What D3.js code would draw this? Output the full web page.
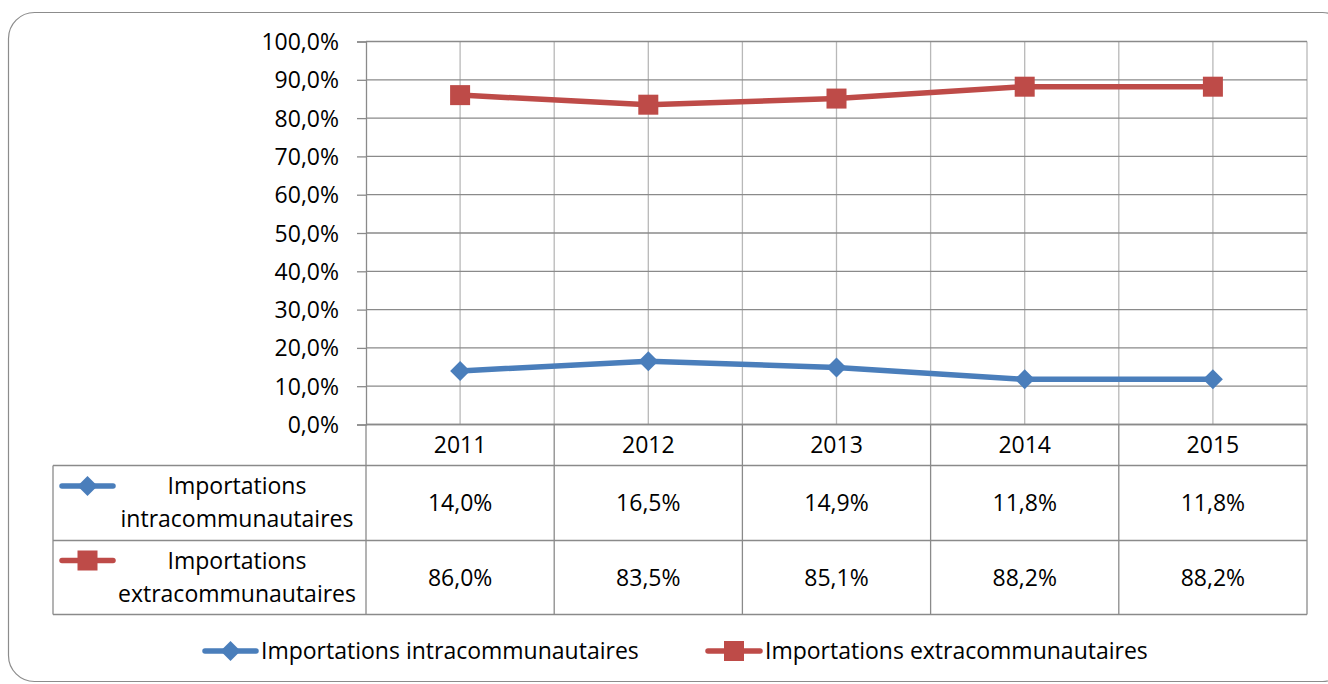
<!DOCTYPE html>
<html><head><meta charset="utf-8">
<script src="https://cdn.jsdelivr.net/npm/d3@7/dist/d3.min.js"></script>
<style>body{margin:0;background:#fff}svg{display:block}text{font-family:"Open Sans",sans-serif;fill:#000}</style>
</head><body>
<svg id="c" width="1328" height="684"></svg>
<script>
const categories = ["2011","2012","2013","2014","2015"];
const seriesNames = ["Importations intracommunautaires","Importations extracommunautaires"];
const intra = [14.0,16.5,14.9,11.8,11.8];
const extra = [86.0,83.5,85.1,88.2,88.2];
const yTicks = [0,10,20,30,40,50,60,70,80,90,100];
const colors = ["#4A7EBB","#BE4B48"];
const series = [intra, extra];

const svg = d3.select("#c");
const fs = 23;
const FF = "Open Sans";
const fmt = v => v.toFixed(1).replace(".", ",") + "%";

// frame
svg.append("rect").attr("x",8.5).attr("y",12.5).attr("width",1340).attr("height",669)
  .attr("rx",26).attr("fill","none").attr("stroke","#8c8c8c").attr("stroke-width",1.2);

const L=366, R=1307, T=41.5, B=424.5;
const x = d3.scaleBand().domain(categories).range([L,R]);
const y = d3.scaleLinear().domain([0,100]).range([B,T]);

// vertical gridlines (boundaries and centers)
const g = svg.append("g");
const vx = [];
categories.forEach(c=>{ vx.push(x(c)+x.bandwidth()/2); if (c!==categories[0]) vx.push(x(c)); });
vx.push(R);
g.selectAll("line.v").data(vx).join("line").attr("x1",d=>d).attr("x2",d=>d).attr("y1",T).attr("y2",B)
  .attr("stroke","#b8b8b8").attr("stroke-width",1.3);
// horizontal gridlines
g.selectAll("line.h").data(yTicks).join("line").attr("x1",L).attr("x2",R).attr("y1",d=>y(d)).attr("y2",d=>y(d))
  .attr("stroke","#8a8a8a").attr("stroke-width",1.3);

// y axis
const ya = svg.append("g").attr("transform",`translate(${L},0)`)
  .call(d3.axisLeft(y).tickValues(yTicks).tickSize(9).tickPadding(18).tickFormat(fmt));
ya.select(".domain").attr("stroke","#8a8a8a").attr("stroke-width",1.3);
ya.selectAll(".tick line").attr("stroke","#8a8a8a").attr("stroke-width",1.3);
ya.selectAll(".tick text").attr("font-size",fs).attr("font-family",FF).attr("fill","#000").attr("dy","0.35em");

// lines
const line = d3.line().x((d,i)=>x(categories[i])+x.bandwidth()/2).y(d=>y(d));
series.forEach((s,k)=>{
  svg.append("path").datum(s).attr("d",line).attr("fill","none").attr("stroke",colors[k])
    .attr("stroke-width",5.5).attr("stroke-linejoin","round").attr("stroke-linecap","round");
});
function marker(sel,k,cx,cy){
  if(k===0){
    sel.append("path").attr("d",`M${cx},${cy-10}L${cx+10},${cy}L${cx},${cy+10}L${cx-10},${cy}Z`).attr("fill",colors[0]);
  } else {
    sel.append("rect").attr("x",cx-10).attr("y",cy-10).attr("width",20).attr("height",20).attr("fill",colors[1]);
  }
}
series.forEach((s,k)=>{
  s.forEach((v,i)=>marker(svg,k,x(categories[i])+x.bandwidth()/2,y(v)));
});

// data table
const rowY=[424.5,465.5,540.5,614.5];
const TL=53;
const tb = svg.append("g").attr("stroke","#8a8a8a").attr("stroke-width",1.3);
tb.append("line").attr("x1",L).attr("x2",R).attr("y1",rowY[0]).attr("y2",rowY[0]);
[1,2,3].forEach(r=>tb.append("line").attr("x1",TL).attr("x2",R).attr("y1",rowY[r]).attr("y2",rowY[r]));
tb.append("line").attr("x1",TL).attr("x2",TL).attr("y1",rowY[1]).attr("y2",rowY[3]);
tb.append("line").attr("x1",L).attr("x2",L).attr("y1",rowY[0]).attr("y2",rowY[3]);
categories.forEach(c=>tb.append("line").attr("x1",x(c)+x.bandwidth()).attr("x2",x(c)+x.bandwidth()).attr("y1",rowY[0]).attr("y2",rowY[3]));

svg.selectAll("text.yr").data(categories).join("text").attr("x",c=>x(c)+x.bandwidth()/2).attr("y",(rowY[0]+rowY[1])/2)
  .attr("dy","0.35em").attr("text-anchor","middle").attr("font-size",fs).text(c=>c);
series.forEach((s,k)=>{
  const cy=(rowY[k+1]+rowY[k+2])/2;
  svg.selectAll("text.v"+k).data(s).join("text").attr("x",(d,i)=>x(categories[i])+x.bandwidth()/2).attr("y",cy)
    .attr("dy","0.35em").attr("text-anchor","middle").attr("font-size",fs).text(d=>fmt(d));
  const words = seriesNames[k].split(" ");
  svg.append("text").attr("x",237).attr("y",cy-17).attr("dy","0.35em").attr("text-anchor","middle").attr("font-size",fs).text(words[0]);
  svg.append("text").attr("x",237).attr("y",cy+16).attr("dy","0.35em").attr("text-anchor","middle").attr("font-size",fs).text(words[1]);
  const ky = cy-17;
  svg.append("line").attr("x1",62).attr("x2",113).attr("y1",ky).attr("y2",ky).attr("stroke",colors[k]).attr("stroke-width",5.5).attr("stroke-linecap","round");
  marker(svg,k,87.5,ky);
});

// legend
const legX=[[205,256,261],[708,760,765]];
series.forEach((s,k)=>{
  const ly=651;
  svg.append("line").attr("x1",legX[k][0]).attr("x2",legX[k][1]).attr("y1",ly).attr("y2",ly).attr("stroke",colors[k]).attr("stroke-width",5.5).attr("stroke-linecap","round");
  marker(svg,k,(legX[k][0]+legX[k][1])/2,ly);
  svg.append("text").attr("x",legX[k][2]).attr("y",ly).attr("dy","0.35em").attr("font-size",fs).text(seriesNames[k]);
});
</script>
</body></html>
